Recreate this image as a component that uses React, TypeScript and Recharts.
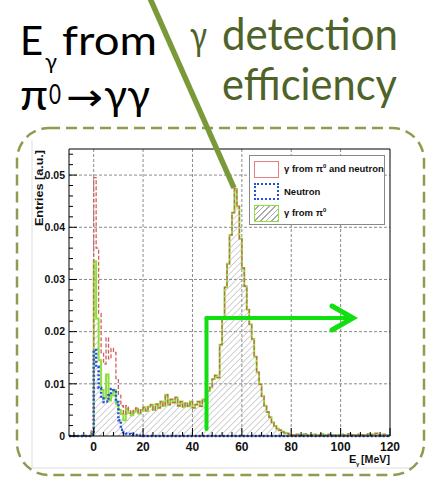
import React from "react";
import {
  ComposedChart,
  Area,
  Line,
  XAxis,
  YAxis,
  CartesianGrid,
  ReferenceLine,
  Legend,
} from "recharts";

// 1 MeV bins, low edges -10 .. 119
const binEdges = Array.from({ length: 130 }, (_, i) => i - 10);

const gammaFromPi0 = [
  0, 0, 0, 0, 0, 0, 0, 0, 0,
  0.0006,
  0.0335, 0.0225, 0.0145, 0.0088, 0.0072, 0.0118, 0.0068, 0.0078, 0.0088, 0.0062,
  0.005, 0.0042, 0.003, 0.0052, 0.0044, 0.004, 0.0047, 0.0052, 0.0043, 0.005,
  0.0055, 0.0048, 0.0056, 0.006, 0.005, 0.0061, 0.0054, 0.0066, 0.0058, 0.0079,
  0.006, 0.007, 0.0064, 0.0074, 0.0058, 0.0066, 0.0056, 0.0063, 0.0057, 0.0066,
  0.0054, 0.006, 0.0066, 0.0057, 0.007, 0.0067, 0.0086, 0.0093, 0.0109, 0.0116,
  0.0112, 0.0175, 0.0225, 0.0285, 0.033, 0.0385, 0.0428, 0.0474, 0.044, 0.0378,
  0.0322, 0.0287, 0.0242, 0.0214, 0.0186, 0.0152, 0.0122, 0.0099, 0.0076, 0.0058,
  0.0046, 0.0036, 0.0026, 0.0019, 0.0014, 0.0011, 0.0008, 0.0006, 0.0005, 0.0003,
  0.0002, 0.0001, 0.0003, 0.0002, 0.0001, 0.0004, 0.0002, 0.0001, 0.0002, 0.0003,
  0.0001, 0.0002, 0.0004, 0.0001, 0.0002, 0.0003, 0.0002, 0.0001, 0.0002, 0.0001,
  0.0003, 0.0002, 0.0001, 0.0004, 0.0002, 0.0002, 0.0001, 0.0003, 0.0002, 0.0001,
  0.0002, 0.0004, 0.0003, 0.0002, 0.0005, 0.0002, 0.0001, 0.0003, 0.0002, 0.0001,
];

const gammaPlusNeutron = [
  0, 0, 0, 0, 0, 0, 0, 0, 0,
  0.0012,
  0.0495, 0.036, 0.0235, 0.016, 0.0138, 0.0188, 0.0148, 0.0168, 0.016, 0.011,
  0.0078, 0.0058, 0.0042, 0.0058, 0.0048, 0.0043, 0.0049, 0.0054, 0.0044, 0.0051,
  0.0055, 0.0048, 0.0056, 0.006, 0.005, 0.0061, 0.0054, 0.0066, 0.0058, 0.0079,
  0.006, 0.007, 0.0064, 0.0074, 0.0058, 0.0066, 0.0056, 0.0063, 0.0057, 0.0066,
  0.0054, 0.006, 0.0066, 0.0057, 0.007, 0.0067, 0.0086, 0.0093, 0.0109, 0.0116,
  0.0112, 0.0175, 0.0225, 0.0285, 0.033, 0.0385, 0.0428, 0.0474, 0.044, 0.0378,
  0.0322, 0.0287, 0.0242, 0.0214, 0.0186, 0.0152, 0.0122, 0.0099, 0.0076, 0.0058,
  0.0046, 0.0036, 0.0026, 0.0019, 0.0014, 0.0011, 0.0008, 0.0006, 0.0005, 0.0003,
  0.0002, 0.0001, 0.0003, 0.0002, 0.0001, 0.0004, 0.0002, 0.0001, 0.0002, 0.0003,
  0.0001, 0.0002, 0.0004, 0.0001, 0.0002, 0.0003, 0.0002, 0.0001, 0.0002, 0.0001,
  0.0003, 0.0002, 0.0001, 0.0004, 0.0002, 0.0002, 0.0001, 0.0003, 0.0002, 0.0001,
  0.0002, 0.0004, 0.0003, 0.0002, 0.0005, 0.0002, 0.0001, 0.0003, 0.0002, 0.0001,
];

const neutron = [
  0, 0, 0, 0, 0, 0, 0, 0, 0,
  0.0003,
  0.0165, 0.0132, 0.0092, 0.0072, 0.0065, 0.0066, 0.0078, 0.009, 0.0088, 0.0065,
  0.003, 0.0012, 0.0007, 0.0005, 0.0004, 0.0003, 0.0002, 0.0002, 0.0001, 0.0001,
  0, 0, 0, 0, 0, 0, 0, 0, 0, 0,
  0, 0, 0, 0, 0, 0, 0, 0, 0, 0,
  0, 0, 0, 0, 0, 0, 0, 0, 0, 0,
  0, 0, 0, 0, 0, 0, 0, 0, 0, 0,
  0, 0, 0, 0, 0, 0, 0, 0, 0, 0,
  0, 0, 0, 0, 0, 0, 0, 0, 0, 0,
  0, 0, 0, 0, 0, 0, 0, 0, 0, 0,
  0, 0, 0, 0, 0, 0, 0, 0, 0, 0,
  0, 0, 0, 0, 0, 0, 0, 0, 0, 0,
  0, 0, 0, 0, 0, 0, 0, 0, 0, 0,
];

const xTicks = [
  -8, -4, 0, 4, 8, 12, 16, 20, 24, 28, 32, 36, 40, 44, 48, 52, 56, 60, 64, 68,
  72, 76, 80, 84, 88, 92, 96, 100, 104, 108, 112, 116, 120,
];
const xMajorTicks = [0, 20, 40, 60, 80, 100, 120];

const yTicks = [
  0, 0.002, 0.004, 0.006, 0.008, 0.01, 0.012, 0.014, 0.016, 0.018, 0.02, 0.022,
  0.024, 0.026, 0.028, 0.03, 0.032, 0.034, 0.036, 0.038, 0.04, 0.042, 0.044,
  0.046, 0.048, 0.05, 0.052, 0.054,
];
const yMajorTicks = [0, 0.01, 0.02, 0.03, 0.04, 0.05];

// extra point at 120 closes the last step
const chartData = [...binEdges, 120].map((energy, i) => {
  const j = Math.min(i, binEdges.length - 1);
  return {
    energy,
    total: gammaPlusNeutron[j],
    neutron: neutron[j],
    pi0: gammaFromPi0[j],
  };
});

const rootFont = "'Liberation Sans', Arial, sans-serif";
const slideFont = "Lato, 'Open Sans', sans-serif";

const YTick = (props: any) => {
  const { x, y, payload } = props;
  const v = payload.value;
  const major = yMajorTicks.includes(v);
  return (
    <g>
      <line x1={x} x2={x + (major ? 8 : 4)} y1={y} y2={y} stroke="#000" />
      {major && (
        <text
          x={x - 4}
          y={y + 3.8}
          textAnchor="end"
          fontSize={10.5}
          fontWeight="bold"
          fontFamily={rootFont}
          fill="#111"
        >
          {v === 0 ? "0" : v.toFixed(2)}
        </text>
      )}
    </g>
  );
};

const XTick = (props: any) => {
  const { x, y, payload } = props;
  const v = payload.value;
  const major = xMajorTicks.includes(v);
  return (
    <g>
      <line x1={x} x2={x} y1={y} y2={y - (major ? 8 : 4)} stroke="#000" />
      {major && (
        <text
          x={x}
          y={y + 15}
          textAnchor="middle"
          fontSize={12}
          fontWeight="bold"
          fontFamily={rootFont}
          fill="#111"
        >
          {v}
        </text>
      )}
    </g>
  );
};

const swatch = (border: string, fill: string) => (
  <div
    style={{
      width: 25,
      height: 17,
      boxSizing: "border-box",
      border,
      background: fill,
      marginRight: 5,
      flexShrink: 0,
    }}
  />
);

const hatchCss =
  "repeating-linear-gradient(-45deg, #aaa 0px, #aaa 1px, #fff 1px, #fff 4px)";

const LegendBox = () => (
  <div
    style={{
      width: 136,
      height: 70,
      boxSizing: "border-box",
      border: "1.5px solid #888",
      background: "#fff",
      fontFamily: rootFont,
      fontWeight: "bold",
      fontSize: 9.5,
      color: "#111",
      padding: "2px 0 0 4px",
      whiteSpace: "nowrap",
    }}
  >
    <div style={{ display: "flex", alignItems: "center", height: 22 }}>
      {swatch("1.5px solid #e08080", "#fff")}
      <span>
        γ from π<sup style={{ fontSize: 6 }}>0</sup> and neutron
      </span>
    </div>
    <div style={{ display: "flex", alignItems: "center", height: 22 }}>
      {swatch("2px dotted #2050e0", "#fff")}
      <span>Neutron</span>
    </div>
    <div style={{ display: "flex", alignItems: "center", height: 22 }}>
      {swatch("1.5px solid #8ee03a", hatchCss)}
      <span>
        γ from π<sup style={{ fontSize: 6 }}>0</sup>
      </span>
    </div>
  </div>
);

export default function App() {
  return (
    <div
      style={{
        position: "absolute",
        left: 0,
        top: 0,
        width: 428,
        height: 480,
        background: "#fff",
        overflow: "hidden",
      }}
    >
      <svg
        width={428}
        height={480}
        style={{ position: "absolute", left: 0, top: 0 }}
      >
        <line x1={32} y1={140} x2={32} y2={468} stroke="#ddd" />
        <line x1={32} y1={468} x2={410} y2={468} stroke="#ddd" />
        <rect
          x={17}
          y={128}
          width={407}
          height={347}
          rx={32}
          fill="none"
          stroke="#8b9d4f"
          strokeWidth={2.5}
          strokeDasharray="11 6"
        />
      </svg>

      <div style={{ position: "absolute", left: 0, top: 0 }}>
        <ComposedChart
          width={428}
          height={480}
          data={chartData}
          margin={{ top: 149, right: 38, bottom: 14, left: 29 }}
        >
          <defs>
            <pattern
              id="hatch"
              patternUnits="userSpaceOnUse"
              width={4.5}
              height={4.5}
              patternTransform="rotate(45)"
            >
              <line x1={0} y1={0} x2={0} y2={4.5} stroke="#a0a0a0" strokeWidth={1} />
            </pattern>
          </defs>

          <CartesianGrid
            stroke="#8a8a8a"
            strokeDasharray="3 2"
            horizontalValues={[0.01, 0.02, 0.03, 0.04, 0.05]}
            verticalValues={[0, 20, 40, 60, 80, 100]}
          />

          <XAxis
            dataKey="energy"
            type="number"
            domain={[-10, 120]}
            ticks={xTicks}
            interval={0}
            tickSize={0}
            tickMargin={0}
            tick={<XTick />}
            tickLine={false}
            axisLine={{ stroke: "#000" }}
            height={30}
          />
          <YAxis
            type="number"
            domain={[0, 0.055]}
            ticks={yTicks}
            interval={0}
            tickSize={0}
            tickMargin={0}
            tick={<YTick />}
            tickLine={false}
            axisLine={{ stroke: "#000" }}
            width={40}
          />

          <ReferenceLine x={120} stroke="#000" />
          <ReferenceLine y={0.055} stroke="#000" />

          <Area
            type="stepAfter"
            dataKey="pi0"
            stroke="#8ee03a"
            strokeWidth={2}
            fill="url(#hatch)"
            fillOpacity={1}
            dot={false}
            activeDot={false}
            isAnimationActive={false}
          />
          <Line
            type="stepAfter"
            dataKey="total"
            stroke="#d06060"
            strokeWidth={1.3}
            strokeDasharray="4 2"
            dot={false}
            activeDot={false}
            isAnimationActive={false}
          />
          <Line
            type="stepAfter"
            dataKey="neutron"
            stroke="#2050e0"
            strokeWidth={2.5}
            strokeDasharray="2 2"
            dot={false}
            activeDot={false}
            isAnimationActive={false}
          />

          <Legend
            layout="vertical"
            align="center"
            verticalAlign="middle"
            width={136}
            height={70}
            wrapperStyle={{ left: 249, top: 155, width: 136, height: 70 }}
            content={<LegendBox />}
          />
        </ComposedChart>
      </div>

      <svg
        width={428}
        height={480}
        style={{ position: "absolute", left: 0, top: 0, pointerEvents: "none" }}
      >
        {/* axis titles */}
        <text
          transform="translate(43,226) rotate(-90)"
          fontSize={11}
          fontWeight="bold"
          fontFamily={rootFont}
          fill="#111"
          textLength={76}
          lengthAdjust="spacingAndGlyphs"
        >
          Entries [a.u.]
        </text>
        <text x={349} y={463} fontSize={11} fontWeight="bold" fontFamily={rootFont} fill="#111">
          E
        </text>
        <text x={356} y={466} fontSize={6} fontWeight="bold" fontFamily={rootFont} fill="#111">
          γ
        </text>
        <text
          x={361}
          y={463}
          fontSize={11}
          fontWeight="bold"
          fontFamily={rootFont}
          fill="#111"
          textLength={29}
          lengthAdjust="spacingAndGlyphs"
        >
          [MeV]
        </text>

        {/* slide text */}
        <g fontFamily={slideFont} fill="#000">
          <text x={20} y={55} fontSize={40}>E</text>
          <text x={45} y={69} fontSize={22}>γ</text>
          <text x={62} y={55} fontSize={40} textLength={95} lengthAdjust="spacingAndGlyphs">
            from
          </text>
          <text x={20} y={110} fontSize={42} textLength={28} lengthAdjust="spacingAndGlyphs">
            π
          </text>
          <text x={49} y={104} fontSize={26} textLength={12} lengthAdjust="spacingAndGlyphs">
            0
          </text>
          <text
            x={66}
            y={110}
            fontSize={38}
            fontFamily="'DejaVu Sans'"
            textLength={37}
            lengthAdjust="spacingAndGlyphs"
          >
            →
          </text>
          <text x={104} y={110} fontSize={42} textLength={46} lengthAdjust="spacingAndGlyphs">
            γγ
          </text>
        </g>
        <g fontFamily={slideFont} fill="#4f6228">
          <text x={190} y={50} fontSize={40} textLength={17} lengthAdjust="spacingAndGlyphs">
            γ
          </text>
          <text x={222} y={50} fontSize={44} textLength={176} lengthAdjust="spacingAndGlyphs">
            detection
          </text>
          <text x={222} y={100} fontSize={44} textLength={175} lengthAdjust="spacingAndGlyphs">
            efficiency
          </text>
        </g>

        {/* pointer to the peak */}
        <line x1={149} y1={-4} x2={234} y2={188} stroke="#7a9a3a" strokeWidth={5.5} />

        {/* green selection arrow */}
        <g stroke="#10e010" strokeWidth={4} fill="none" strokeLinecap="round">
          <line x1={206.5} y1={318} x2={206.5} y2={429} />
          <line x1={206.5} y1={318} x2={352} y2={318} />
          <polyline points="332,306 353,318 332,330" strokeWidth={5} />
        </g>
      </svg>
    </div>
  );
}
